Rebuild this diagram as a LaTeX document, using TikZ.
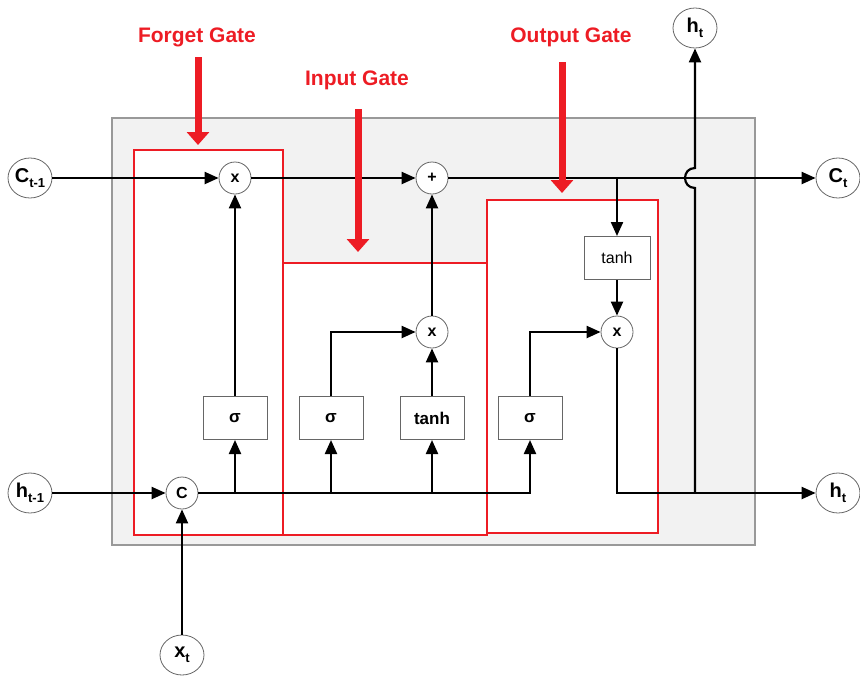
\documentclass[tikz,border=0pt]{standalone}
\usepackage{fontspec}
\setmainfont{Liberation Sans}
\usetikzlibrary{arrows.meta,calc,shapes.geometric}
\definecolor{gatered}{RGB}{237,28,36}
\definecolor{cellgray}{RGB}{242,242,242}
\newcommand{\sublbl}[2]{#1\raisebox{-0.45ex}{\fontsize{13}{13}\selectfont #2}}

\begin{document}
\begin{tikzpicture}[x=1pt,y=-1pt,
  arr/.style={line width=2.2pt,-{Triangle[length=14pt,width=12pt]}},
  op/.style={circle,draw=black!60,line width=0.8pt,fill=white,minimum size=32pt,
    inner sep=0pt,font=\fontsize{16}{16}\selectfont\bfseries},
  act/.style={rectangle,draw=black!60,line width=1pt,fill=white,minimum width=64pt,
    minimum height=43pt,font=\fontsize{17}{17}\selectfont\bfseries},
  io/.style={ellipse,draw=black!60,line width=0.8pt,fill=white,minimum width=44pt,
    minimum height=40pt,inner sep=0pt,font=\fontsize{20}{20}\selectfont\bfseries},
  gatebox/.style={draw=gatered,line width=2pt,fill=white},
  gatelbl/.style={text=gatered,font=\fontsize{21}{21}\selectfont\bfseries},
  gatearr/.style={draw=gatered,line width=7pt,-{Triangle[length=13pt,width=22pt]}}
]
  \useasboundingbox (0,0) rectangle (860,678);
  % cell and gates
  \draw[black!40,line width=1.5pt,fill=cellgray] (112,118) rectangle (755,545);
  \draw[gatebox] (134,150) rectangle (283,535);
  \draw[gatebox] (283,263) rectangle (487,535);
  \draw[gatebox] (487,200) rectangle (658,533);

  \node[io] (ctm1) at (30,178) {\sublbl{C}{t-1}};
  \node[io] (htm1) at (30,493) {\sublbl{h}{t-1}};
  \node[io] (xt) at (182,655) {\sublbl{x}{t}};
  \node[io] (ct) at (838,178) {\sublbl{C}{t}};
  \node[io] (ht) at (838,493) {\sublbl{h}{t}};
  \node[io] (htop) at (695,28) {\sublbl{h}{t}};

  \node[op] (fx) at (235,178) {x};
  \node[op] (px) at (432,178) {+};
  \node[op] (ix) at (432,332) {x};
  \node[op] (ox) at (617,332) {x};
  \node[op] (cc) at (182,493) {C};

  \node[act] (fsig) at (235,418) {σ};
  \node[act] (isig) at (331,418) {σ};
  \node[act] (itanh) at (432,418) {tanh};
  \node[act] (osig) at (530,418) {σ};
  \node[act,font=\fontsize{16}{16}\selectfont,minimum width=66pt] (otanh) at (617,258) {tanh};

  % cell state
  \draw[arr] (ctm1) -- (fx);
  \draw[arr] (fx) -- (px);
  \draw[arr] (px) -- (ct);
  \draw[arr] (px -| otanh) -- (otanh);
  \draw[arr] (otanh) -- (ox);
  % gates
  \draw[arr] (fsig) -- (fx);
  \draw[arr] (isig) |- (ix);
  \draw[arr] (itanh) -- (ix);
  \draw[arr] (ix) -- (px);
  \draw[arr] (osig) |- (ox);
  % inputs
  \draw[arr] (htm1) -- (cc);
  \draw[arr] (xt) -- (cc);
  \draw[arr] (cc) -| (osig);
  \draw[arr] (fsig |- cc) -- (fsig);
  \draw[arr] (isig |- cc) -- (isig);
  \draw[arr] (itanh |- cc) -- (itanh);
  % outputs
  \draw[arr] (ox) |- (ht);
  \coordinate (jn) at (htop |- ht);
  \draw[arr] (jn) -- ($(htop |- ct)+(0,10)$) .. controls +(-13.3,0) and +(-13.3,0)
    .. ($(htop |- ct)+(0,-10)$) -- (htop);

  % labels
  \node[gatelbl] (flab) at (197,37) {Forget Gate};
  \node[gatelbl] (ilab) at (357,80) {Input Gate};
  \node[gatelbl] (olab) at (571,37) {Output Gate};
  \coordinate (ftip) at (198,145);
  \coordinate (itip) at (358,252);
  \coordinate (otip) at (562,193);
  \draw[gatearr] ($(flab.south -| ftip)+(0,7)$) -- (ftip);
  \draw[gatearr] ($(ilab.south -| itip)+(0,16)$) -- (itip);
  \draw[gatearr] ($(olab.south -| otip)+(0,12)$) -- (otip);
\end{tikzpicture}
\end{document}
